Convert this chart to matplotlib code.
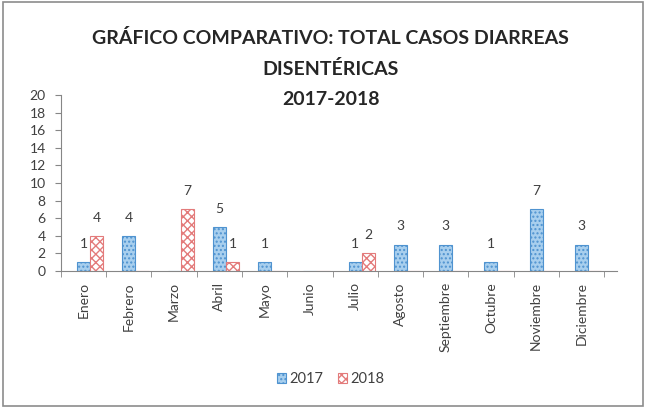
import matplotlib
matplotlib.use("Agg")
import matplotlib.pyplot as plt
import numpy as np
from matplotlib.patches import Rectangle

plt.rcParams['font.family'] = ['Lato', 'DejaVu Sans']
plt.rcParams['hatch.linewidth'] = 1.0

meses = ["Enero", "Febrero", "Marzo", "Abril", "Mayo", "Junio", "Julio",
         "Agosto", "Septiembre", "Octubre", "Noviembre", "Diciembre"]
casos_2017 = [1, 4, 0, 5, 1, 0, 1, 3, 3, 1, 7, 3]
casos_2018 = [4, 0, 7, 1, 0, 0, 2, 0, 0, 0, 0, 0]

titulo = "GRÁFICO COMPARATIVO: TOTAL CASOS DIARREAS\nDISENTÉRICAS\n2017-2018"

fig = plt.figure(figsize=(6.46, 4.08), dpi=100)
ax = fig.add_axes([0.0944, 0.336, 0.861, 0.431])

x = np.arange(len(meses))
w = 0.29

b1 = ax.bar(x, casos_2017, w, color="#a8cfee", edgecolor="#4f93d0",
            hatch="....", linewidth=0.8, label="2017")
b2 = ax.bar(x + w, casos_2018, w, color="white", edgecolor="#e37b7b",
            hatch="xxxx", linewidth=0.8, label="2018")

# etiquetas de valor, solo para barras distintas de cero
for barras, valores in ((b1, casos_2017), (b2, casos_2018)):
    for r, v in zip(barras, valores):
        if v > 0:
            ax.annotate(str(v), (r.get_x() + r.get_width() / 2, v),
                        xytext=(0, 13), textcoords="offset points",
                        ha="center", va="center", fontsize=10, color="#404040")

ax.set_ylim(0, 20)
ax.set_yticks(range(0, 21, 2))
ax.set_xlim(-0.5, 11.79)
ax.set_xticks(x)
ax.set_xticklabels(meses, rotation=90, fontsize=10, color="#404040")
ax.set_xticks(np.arange(-0.5, 12, 1), minor=True)
ax.tick_params(axis="x", which="major", length=0, pad=8)
ax.tick_params(axis="x", which="minor", length=4, color="#868686")
ax.tick_params(axis="y", length=4, color="#868686", labelsize=10,
               labelcolor="#404040", pad=7)

for s in ("top", "right"):
    ax.spines[s].set_visible(False)
for s in ("left", "bottom"):
    ax.spines[s].set_color("#868686")

fig.text(0.512, 0.833, titulo, ha="center", va="center", fontsize=14,
         fontweight="bold", color="#262626", linespacing=1.9)

fig.legend(handles=[b1, b2], loc="center", bbox_to_anchor=(0.512, 0.07),
           ncol=2, frameon=False, fontsize=10.5, handlelength=0.6,
           handleheight=0.7, handletextpad=0.25, columnspacing=1.0,
           labelcolor="#404040")

fig.patches.append(Rectangle((0.004, 0.006), 0.992, 0.988, transform=fig.transFigure,
                             fill=False, edgecolor="#8c8c8c", linewidth=1.2))

fig.savefig("out.png", dpi=100)
